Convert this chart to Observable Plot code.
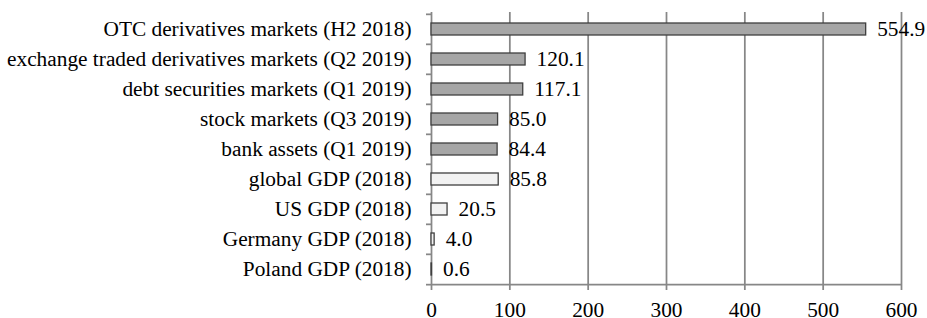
<!DOCTYPE html>
<html>
<head>
<meta charset="utf-8">
<script src="https://cdn.jsdelivr.net/npm/d3@7"></script>
<script src="https://cdn.jsdelivr.net/npm/@observablehq/plot@0.6"></script>
<style>
  html, body { margin: 0; padding: 0; background: #ffffff; }
</style>
</head>
<body>
<div id="chart"></div>
<script>
const categories = [
  "OTC derivatives markets (H2 2018)",
  "exchange traded derivatives markets (Q2 2019)",
  "debt securities markets (Q1 2019)",
  "stock markets (Q3 2019)",
  "bank assets (Q1 2019)",
  "global GDP (2018)",
  "US GDP (2018)",
  "Germany GDP (2018)",
  "Poland GDP (2018)"
];
const values = [554.9, 120.1, 117.1, 85.0, 84.4, 85.8, 20.5, 4.0, 0.6];
const kinds = ["market", "market", "market", "market", "market", "gdp", "gdp", "gdp", "gdp"];
const xTicks = [0, 100, 200, 300, 400, 500, 600];

const W = 927, H = 318;
const mTop = 12, mBottom = 33, mLeft = 431, mRight = 26;
const step = (H - mTop - mBottom) / categories.length;
const font = "Liberation Serif";
const fs = 21.33;
const grid = "#878787";
const idx = categories.map((_, i) => i);

const chart = Plot.plot({
  width: W,
  height: H,
  marginTop: mTop,
  marginBottom: mBottom,
  marginLeft: mLeft,
  marginRight: mRight,
  style: { fontFamily: font, fontSize: fs + "px", color: "#000", background: "#fff", overflow: "visible" },
  x: { domain: [0, 600], axis: null },
  y: { domain: categories, type: "band", paddingInner: 0, paddingOuter: 0, axis: null },
  color: { domain: ["market", "gdp"], range: ["#a6a6a6", "#f2f2f2"] },
  marks: [
    Plot.gridX(xTicks.slice(1), { stroke: grid, strokeOpacity: 1, strokeWidth: 1.75 }),
    Plot.axisX({ ticks: xTicks, tickSize: 5, tickPadding: 11, stroke: grid, strokeWidth: 1.75,
      fontSize: fs, fontFamily: font, fill: "#000", tickFormat: d => String(d), label: null }),
    Plot.axisY({ tickSize: 5, tickFormat: () => "", dy: -step / 2, stroke: grid, strokeWidth: 1.75, label: null }),
    Plot.axisY({ ticks: [categories[categories.length - 1]], tickSize: 5, tickFormat: () => "", dy: step / 2, stroke: grid, strokeWidth: 1.75, label: null }),
    Plot.axisY({ tickSize: 0, tickPadding: 20, fontSize: fs, fontFamily: font, fill: "#000", label: null }),
    Plot.ruleX([0], { stroke: grid, strokeWidth: 1.75 }),
    Plot.ruleY([categories[categories.length - 1]], { dy: step / 2, stroke: grid, strokeWidth: 1.75 }),
    Plot.barX(idx, {
      x: i => values[i], y: i => categories[i], fill: i => kinds[i],
      stroke: "#3f3f3f", strokeWidth: 1.3, insetTop: 9, insetBottom: 9
    }),
    Plot.text(idx, {
      x: i => values[i], y: i => categories[i], text: i => values[i].toFixed(1),
      textAnchor: "start", dx: 11, fontSize: fs, fontFamily: font, fill: "#000"
    })
  ]
});
document.getElementById("chart").appendChild(chart);
</script>
</body>
</html>
